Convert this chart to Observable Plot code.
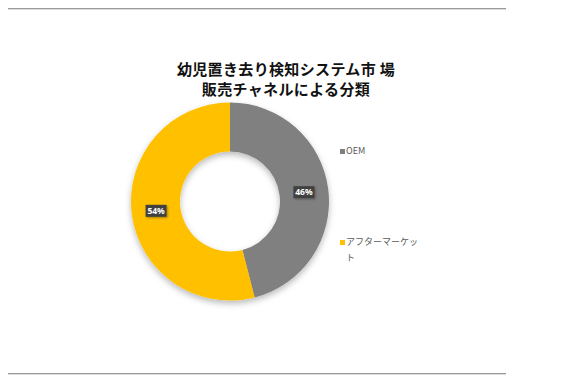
<!DOCTYPE html>
<html><head><meta charset="utf-8">
<script src="https://cdn.jsdelivr.net/npm/d3@7"></script>
<script src="https://cdn.jsdelivr.net/npm/@observablehq/plot@0.6"></script>
<style>
body{margin:0;background:#fff;}
#wrap{position:relative;width:587px;height:383px;overflow:hidden;font-family:"Noto Sans CJK JP","Noto Sans",sans-serif;}
.hr{position:absolute;left:8px;width:498px;height:1px;background:#9a9a9a;border-bottom:1px solid #dcdcdc;}
.title{position:absolute;left:0;width:572px;text-align:center;font-weight:bold;font-size:15px;line-height:19px;letter-spacing:0.35px;color:#111;}
.leg{position:absolute;font-size:9px;line-height:16px;color:#595959;width:80px;}
.sw{position:absolute;left:-6px;top:6px;width:5px;height:5px;}
#chart{position:absolute;left:0;top:0;}
</style></head>
<body><div id="wrap">
<div class="hr" style="top:8px"></div>
<div class="hr" style="top:373px"></div>
<div id="titles"></div>
<div id="chart"></div>
<div id="legend"></div>
</div>
<script>
const titleLines = ["幼児置き去り検知システム市 場", "販売チャネルによる分類"];
const categories = ["OEM", "アフターマーケット"];
const values = [46, 54];
const colors = ["#808080", "#FFC000"];
const labels = ["46%", "54%"];

const tops = [59, 78.5];
titleLines.forEach((t, i) => {
  const el = document.createElement("div");
  el.className = "title";
  el.style.top = tops[i] + "px";
  el.textContent = t;
  document.getElementById("titles").append(el);
});

const data = categories.map((c, i) => ({category: c, value: values[i], color: colors[i], label: labels[i]}));
const pie = d3.pie().value(d => d.value).sort(null)(data);

function donut(index, scales, vals, dimensions, context) {
  const cx = scales.x(0), cy = scales.y(0);
  const R = scales.x(1) - scales.x(0);
  const r = R * 0.505;
  const g = d3.create("svg:g");
  const defs = g.append("defs");
  const f = defs.append("filter").attr("id", "sh").attr("x", "-20%").attr("y", "-20%").attr("width", "140%").attr("height", "140%");
  f.append("feDropShadow").attr("dx", 0).attr("dy", 3).attr("stdDeviation", 3).attr("flood-color", "#000").attr("flood-opacity", 0.28);
  const f2 = defs.append("filter").attr("id", "sh2").attr("x", "-30%").attr("y", "-30%").attr("width", "160%").attr("height", "160%");
  f2.append("feDropShadow").attr("dx", 1).attr("dy", 1).attr("stdDeviation", 1).attr("flood-color", "#000").attr("flood-opacity", 0.35);
  const arc = d3.arc().innerRadius(r).outerRadius(R);
  const lab = d3.arc().innerRadius((r + R) / 2).outerRadius((r + R) / 2);
  const gg = g.append("g").attr("transform", `translate(${cx},${cy})`);
  gg.append("g").attr("filter", "url(#sh)")
    .selectAll("path").data(pie).join("path")
    .attr("d", arc).attr("fill", d => d.data.color);
  const lg = gg.selectAll("g.l").data(pie).join("g").attr("class", "l")
    .attr("transform", d => `translate(${lab.centroid(d)})`);
  lg.append("rect").attr("x", -10.5).attr("y", -6).attr("width", 21).attr("height", 12)
    .attr("fill", "#404040").attr("filter", "url(#sh2)");
  lg.append("text").attr("text-anchor", "middle").attr("dy", "0.35em")
    .attr("fill", "#fff").attr("font-size", 8.5).attr("font-weight", "bold")
    .attr("font-family", "'Noto Sans','DejaVu Sans',sans-serif")
    .text(d => d.data.label);
  return g.node();
}

const plot = Plot.plot({
  width: 587, height: 383, margin: 0,
  x: {domain: [-1, 1], range: [131, 329], axis: null},
  y: {domain: [-1, 1], range: [300.5, 102.5], axis: null},
  marks: [donut]
});
document.getElementById("chart").append(plot);

const leg = document.getElementById("legend");
const legTops = [143, 234];
data.forEach((d, i) => {
  const el = document.createElement("div");
  el.className = "leg";
  el.style.left = "346px";
  el.style.top = legTops[i] + "px";
  el.style.width = "76px";
  el.innerHTML = `<span class="sw" style="background:${d.color}"></span>${d.category}`;
  leg.append(el);
});
</script>
</body></html>
